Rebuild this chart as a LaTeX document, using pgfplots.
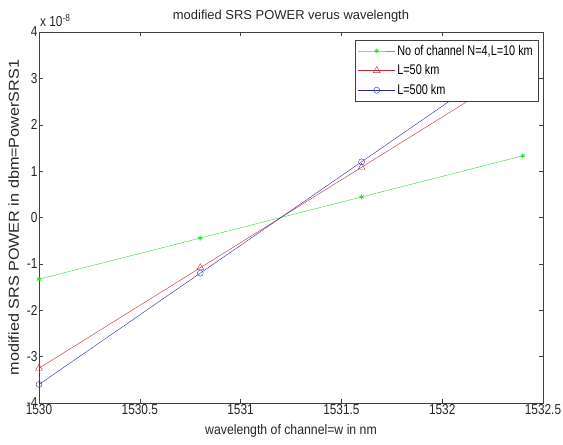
\documentclass[border=0pt]{standalone}
\usepackage{pgfplots}
\pgfplotsset{compat=1.18}
\usepackage{fontspec}
\setmainfont{Liberation Sans}
\newfontfamily\fcond[FakeStretch=0.82]{Liberation Sans}
\newfontfamily\fleg[FakeStretch=0.78]{Liberation Sans}
\newfontfamily\fxl[FakeStretch=0.88]{Liberation Sans}
\newfontfamily\fyl[FakeStretch=1.12]{Liberation Sans}
\definecolor{mg}{RGB}{40,220,40}
\definecolor{mr}{RGB}{200,40,50}
\definecolor{mb}{RGB}{40,40,160}
\begin{document}
\begin{tikzpicture}
\begin{axis}[
  name=ax,
  scale only axis,
  width=504bp, height=371bp,
  xmin=1530, xmax=1532.5, ymin=-4, ymax=4,
  xtick={1530,1530.5,...,1532.5},
  ytick={-4,-3,...,4},
  xticklabels={1530,1530.5,1531,1531.5,1532,1532.5},
  tick align=inside,
  tick pos=both,
  major tick length=4bp,
  axis line style={black!75},
  every tick/.style={black!75},
  /pgf/number format/assume math mode=true,
  ticklabel style={font=\fcond\fontsize{14.5}{16}\selectfont, text=black!85},
  xticklabel style={yshift=2bp},
  yticklabel style={xshift=2bp},
  title={modified SRS POWER verus wavelength},
  title style={font=\fontsize{13}{15}\selectfont, text=black!85, yshift=0bp},
  xlabel={wavelength of channel=w in nm},
  ylabel={modified SRS POWER in dbm=PowerSRS1},
  xlabel style={font=\fxl\fontsize{14}{16}\selectfont, text=black!85, yshift=-3bp},
  ylabel style={font=\fyl\fontsize{14.5}{16}\selectfont, text=black!85, yshift=1bp},
  legend style={at={(rel axis cs:1,1)}, anchor=north east, xshift=-5bp, yshift=-8bp,
    font=\fleg\fontsize{14}{16}\selectfont, draw=black!75, inner sep=3bp,
    row sep=4bp, cells={anchor=west}},
  legend cell align=left,
  legend image code/.code={\draw[mark repeat=2,mark phase=2] plot coordinates {(0cm,0cm) (0.65cm,0cm) (1.3cm,0cm)};},
  clip=true,
]
\addplot[mg, thin, mark=asterisk, mark size=2.5bp, mark options={line width=0.8pt}] coordinates {
  (1530,-1.33) (1530.8,-0.443) (1531.6,0.443) (1532.4,1.33)};
\addlegendentry{No of channel N=4,L=10 km}
\addplot[mr, thin, mark=triangle, mark size=4bp] coordinates {
  (1530,-3.25) (1530.8,-1.083) (1531.6,1.083) (1532.4,3.25)};
\addlegendentry{L=50 km}
\addplot[mb, thin, mark=o, mark size=3bp] coordinates {
  (1530,-3.6) (1530.8,-1.2) (1531.6,1.2) (1532.4,3.6)};
\addlegendentry{L=500 km}
\end{axis}
\node[anchor=south west, font=\fcond\fontsize{14.5}{16}\selectfont, text=black!85, inner sep=0pt] at ([xshift=1bp,yshift=5bp]ax.north west) {x 10\textsuperscript{-8}};
\pgfresetboundingbox
\useasboundingbox ([shift={(-39bp,-42bp)}]ax.south west) rectangle ([shift={(20bp,32bp)}]ax.north east);
\end{tikzpicture}
\end{document}
